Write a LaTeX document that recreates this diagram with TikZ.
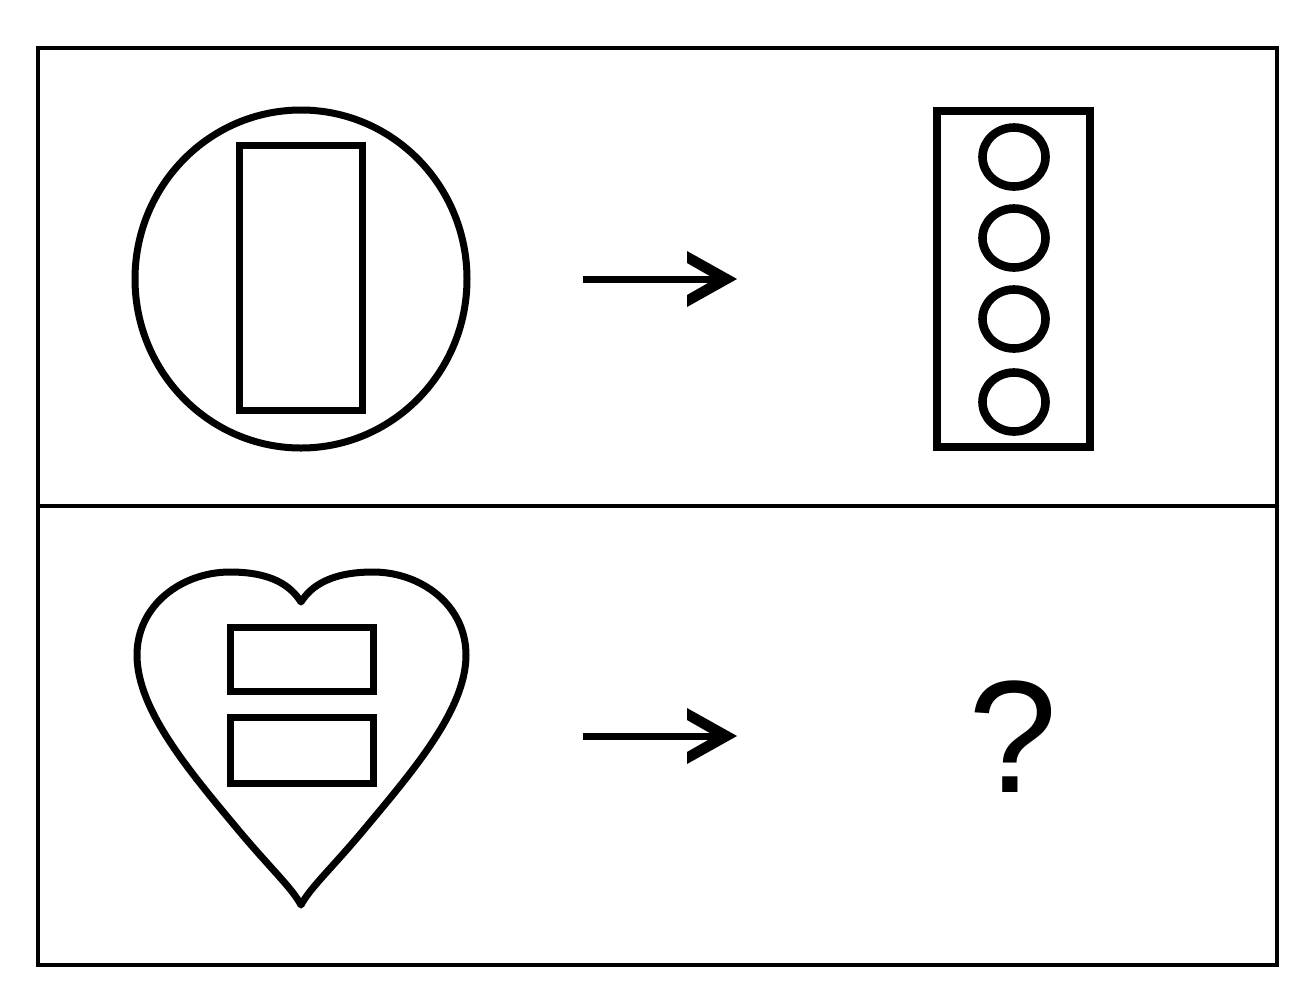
\documentclass[tikz,border=0pt]{standalone}
\usepackage{fontspec}
\newfontfamily\qfont{Liberation Sans}
\begin{document}
\begin{tikzpicture}[x=0.5pt,y=-0.5pt,
  frame/.style={line width=2pt,draw=black},
  shapeline/.style={line width=3.5pt,draw=black,line join=miter},
  thickbox/.style={line width=4pt,draw=black},
  ring/.style={line width=4.3pt,draw=black},
  shaft/.style={line width=3.5pt,draw=black},
  head/.style={fill=black},
]
\useasboundingbox (0,0) rectangle (1312,992);
\fill[white] (0,0) rectangle (1312,992);
% frame
\draw[frame] (38,48) rectangle (1277,965);
\coordinate (divL) at (38,506);
\coordinate (divR) at (1277,506);
\draw[frame] (divL) -- (divR);
% top-left: circle with rectangle
\draw[shapeline] (301,279) ellipse[x radius=166,y radius=169];
\node[shapeline,minimum width=61.5pt,minimum height=132.5pt,inner sep=0pt] (bigrect) at (300.5,277.5) {};
% top arrow
\coordinate (a1s) at (583,279);
\coordinate (a1e) at (718,279);
\draw[shaft] (a1s) -- (a1e);
\fill[head] (687,251) -- (737,279) -- (687,307) -- (687,295) -- (715,279) -- (687,263) -- cycle;
% top-right: tall box with four rings
\node[thickbox,minimum width=76.5pt,minimum height=168pt,inner sep=0pt] (tallbox) at (1013.5,279) {};
\foreach \yy/\nm in {157/r1,238/r2,319/r3,402/r4}{
  \draw[ring] (1014,\yy) ellipse[x radius=31.5,y radius=29.5];
}
% bottom-left: heart with two bars
\draw[shapeline,line join=round]
  (301,602) .. controls (291,586) and (272,572) .. (230,572)
  .. controls (182,572) and (137,605) .. (137,655)
  .. controls (137,710) and (190,772) .. (240,832)
  .. controls (272,870) and (292,888) .. (301,905)
  .. controls (310,888) and (330,870) .. (362,832)
  .. controls (412,772) and (466,710) .. (466,655)
  .. controls (466,605) and (421,572) .. (373,572)
  .. controls (331,572) and (311,586) .. (301,602) -- cycle;
\node[shapeline,minimum width=71.5pt,minimum height=32pt,inner sep=0pt] (bar1) at (301.5,659) {};
\node[shapeline,minimum width=71.5pt,minimum height=33pt,inner sep=0pt] (bar2) at (301.5,750) {};
% bottom arrow
\coordinate (a2s) at (583,736);
\coordinate (a2e) at (718,736);
\draw[shaft] (a2s) -- (a2e);
\fill[head] (687,708) -- (737,736) -- (687,764) -- (687,752) -- (715,736) -- (687,720) -- cycle;
% question mark
\node[inner sep=0pt] (qm) at (1013,737) {\qfont\fontsize{80}{80}\selectfont ?};
\end{tikzpicture}
\end{document}
